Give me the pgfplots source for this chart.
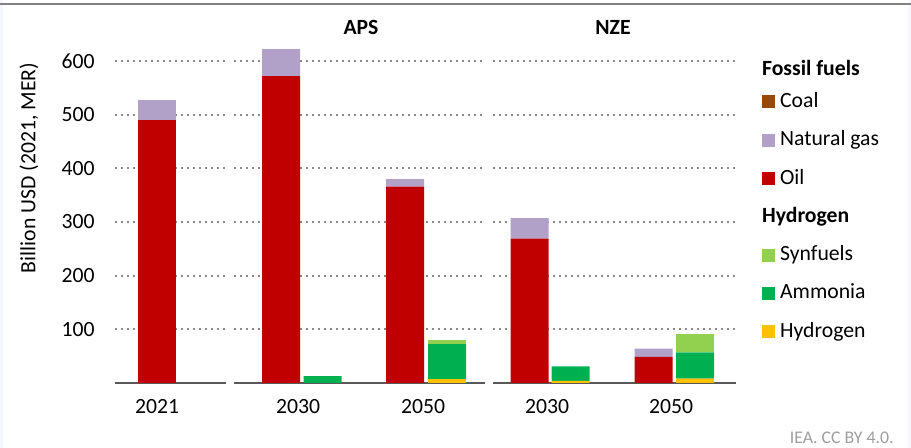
\documentclass[border=0pt]{standalone}
\usepackage{pgfplots}
\pgfplotsset{compat=1.18}
\usepackage{fontspec}
\setmainfont{Carlito}
\definecolor{coal}{HTML}{984807}
\definecolor{gas}{HTML}{B1A0C7}
\definecolor{oil}{HTML}{C00000}
\definecolor{syn}{HTML}{92D050}
\definecolor{amm}{HTML}{00B050}
\definecolor{hyd}{HTML}{FFC000}
\definecolor{gridc}{HTML}{8A8A8A}
\pgfplotsset{
  panel/.style={
    scale only axis, height=171.73pt, ymin=0, ymax=640, enlargelimits=false,
    ybar stacked, bar width=38,
    axis x line*=bottom, axis y line*=left,
    ymajorgrids, grid style={gridc, line width=0.9pt, dash pattern=on 0.9pt off 2.1pt},
    ytick={100,200,...,600},
    major tick length=0pt,
    x axis line style={draw=black!65, line width=0.8pt},
    y axis line style={draw=none},
    xticklabel style={anchor=north, inner sep=0pt, yshift=-7.9pt},
    yticklabel style={anchor=east, inner sep=0pt, xshift=-10pt},
    /pgf/number format/assume math mode=true,
    every axis plot/.append style={draw=none},
  },
  sq/.style={legend image code/.code={\fill[#1] (0pt,-3.25pt) rectangle (6.5pt,3.25pt);}},
}
\begin{document}
\fontsize{10.85}{13}\selectfont
\begin{tikzpicture}
\path[use as bounding box] (0,0) rectangle (455.5pt,224pt);
\fill[black!4!blue!3!white] (0,0) rectangle (1.3pt,224pt);
\fill[black!4!blue!3!white] (454.2pt,0) rectangle (455.5pt,224pt);
\draw[black!50, line width=0.75pt] (0,222pt) -- (455.5pt,222pt);

% 2021
\begin{axis}[panel, at={(57.5pt,32.5pt)}, anchor=south west, width=55.5pt,
  xmin=115, xmax=226, xtick={157}, xticklabels={2021}]
\addplot[fill=coal] coordinates {(157,0)};
\addplot[fill=oil] coordinates {(157,490)};
\addplot[fill=gas] coordinates {(157,37)};
\end{axis}

% APS
\begin{axis}[panel, at={(117pt,32.5pt)}, anchor=south west, width=125.5pt,
  xmin=234, xmax=485, xtick={298,423}, xticklabels={2030,2050}, yticklabels={}]
\addplot[fill=coal] coordinates {(281,0) (322.7,0) (405,0) (447,0)};
\addplot[fill=oil] coordinates {(281,572) (322.7,0) (405,366) (447,0)};
\addplot[fill=gas] coordinates {(281,50) (322.7,0) (405,14) (447,0)};
\addplot[fill=hyd] coordinates {(281,0) (322.7,0) (405,0) (447,7.5)};
\addplot[fill=amm] coordinates {(281,0) (322.7,13) (405,0) (447,65)};
\addplot[fill=syn] coordinates {(281,0) (322.7,0) (405,0) (447,8)};
\end{axis}

% NZE
\begin{axis}[panel, at={(246.5pt,32.5pt)}, anchor=south west, width=121.5pt,
  xmin=493, xmax=736, xtick={547,671}, xticklabels={2030,2050}, yticklabels={},
  legend style={at={(1.1058,0.9614)}, anchor=north west, draw=none, fill=none,
    inner sep=0pt, row sep=8.65pt, column sep=2.5pt,
    nodes={inner sep=0pt, text height=8pt, text depth=2.5pt}},
  legend cell align=left]
\addplot[fill=coal, forget plot] coordinates {(529.5,0) (570.7,0) (653.5,0) (695,0)};
\addplot[fill=oil, forget plot] coordinates {(529.5,269) (570.7,0) (653.5,48.5) (695,0)};
\addplot[fill=gas, forget plot] coordinates {(529.5,38) (570.7,0) (653.5,15.5) (695,0)};
\addplot[fill=hyd, forget plot] coordinates {(529.5,0) (570.7,4) (653.5,0) (695,8)};
\addplot[fill=amm, forget plot] coordinates {(529.5,0) (570.7,27) (653.5,0) (695,49)};
\addplot[fill=syn, forget plot] coordinates {(529.5,0) (570.7,0) (653.5,0) (695,35)};
\addlegendimage{empty legend}\addlegendentry{\hspace*{-9pt}\raisebox{-3.25pt}{\bfseries Fossil fuels}}
\addlegendimage{sq=coal}\addlegendentry{Coal}
\addlegendimage{sq=gas}\addlegendentry{Natural gas}
\addlegendimage{sq=oil}\addlegendentry{Oil}
\addlegendimage{empty legend}\addlegendentry{\hspace*{-9pt}\bfseries Hydrogen}
\addlegendimage{sq=syn}\addlegendentry{Synfuels}
\addlegendimage{sq=amm}\addlegendentry{Ammonia}
\addlegendimage{sq=hyd}\addlegendentry{Hydrogen}
\end{axis}

\node[rotate=90] at (14.5pt,140pt) {Billion USD (2021, MER)};
\node[font=\bfseries] at (180.5pt,210.5pt) {APS};
\node[font=\bfseries] at (306.5pt,210.5pt) {NZE};
\node[anchor=east, inner sep=0pt, text=black!38, font=\fontsize{8.9}{10}\selectfont] at (447pt,5pt) {IEA. CC BY 4.0.};
\end{tikzpicture}
\end{document}
